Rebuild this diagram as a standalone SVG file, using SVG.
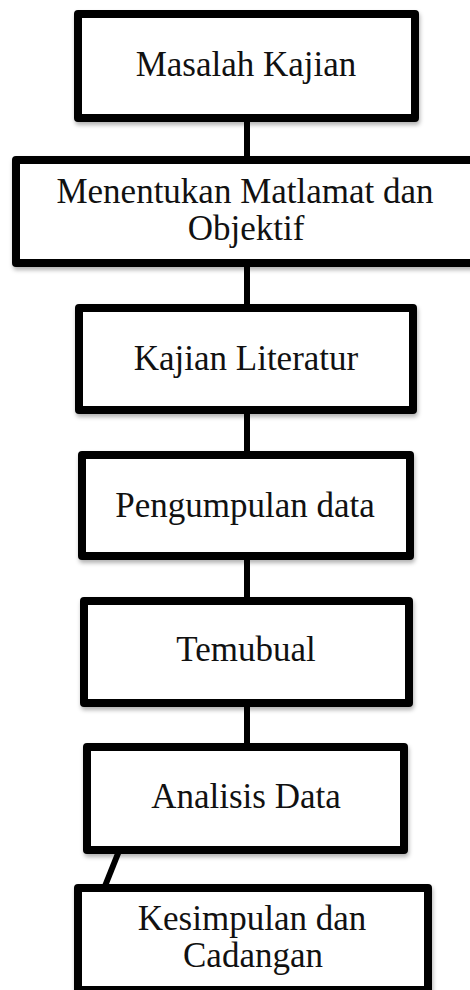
<svg xmlns="http://www.w3.org/2000/svg" width="470" height="990" viewBox="0 0 470 990">
<defs>
<filter id="sh" x="-10%" y="-10%" width="130%" height="140%">
<feDropShadow dx="1" dy="3" stdDeviation="2" flood-color="#000" flood-opacity="0.3"/>
</filter>
<style>
.box{fill:#fff;stroke:#000;stroke-width:8;stroke-linejoin:round;filter:url(#sh)}
.lbl{font-family:"Liberation Serif","Times New Roman",serif;font-size:35px;fill:#111;text-anchor:middle}
.conn{stroke:#000;stroke-width:6;fill:none}
</style>
</defs>
<rect width="470" height="990" fill="#fff"/>
<g id="connectors">
<line class="conn" x1="247" y1="120" x2="247" y2="158"/>
<line class="conn" x1="247" y1="265" x2="247" y2="306"/>
<line class="conn" x1="247" y1="412" x2="247" y2="453"/>
<line class="conn" x1="247" y1="558" x2="247" y2="599"/>
<line class="conn" x1="247" y1="705" x2="247" y2="745"/>
<line class="conn" x1="119" y1="851" x2="105" y2="886"/>
</g>
<g id="n1">
<rect class="box" x="78" y="14" width="337" height="104"/>
<text class="lbl" x="246" y="76">Masalah Kajian</text>
</g>
<g id="n2">
<rect class="box" x="16" y="160" width="470" height="103"/>
<text class="lbl" x="245" y="203">Menentukan Matlamat dan</text>
<text class="lbl" x="246" y="240">Objektif</text>
</g>
<g id="n3">
<rect class="box" x="79" y="308" width="334" height="102"/>
<text class="lbl" x="246" y="370">Kajian Literatur</text>
</g>
<g id="n4">
<rect class="box" x="82" y="455" width="328" height="101"/>
<text class="lbl" x="245" y="517">Pengumpulan data</text>
</g>
<g id="n5">
<rect class="box" x="84" y="601" width="325" height="102"/>
<text class="lbl" x="246" y="661">Temubual</text>
</g>
<g id="n6">
<rect class="box" x="87" y="747" width="317" height="103"/>
<text class="lbl" x="246" y="808">Analisis Data</text>
</g>
<g id="n7">
<rect class="box" x="78" y="888" width="350" height="102"/>
<text class="lbl" x="252" y="930">Kesimpulan dan</text>
<text class="lbl" x="253" y="967">Cadangan</text>
</g>
</svg>
